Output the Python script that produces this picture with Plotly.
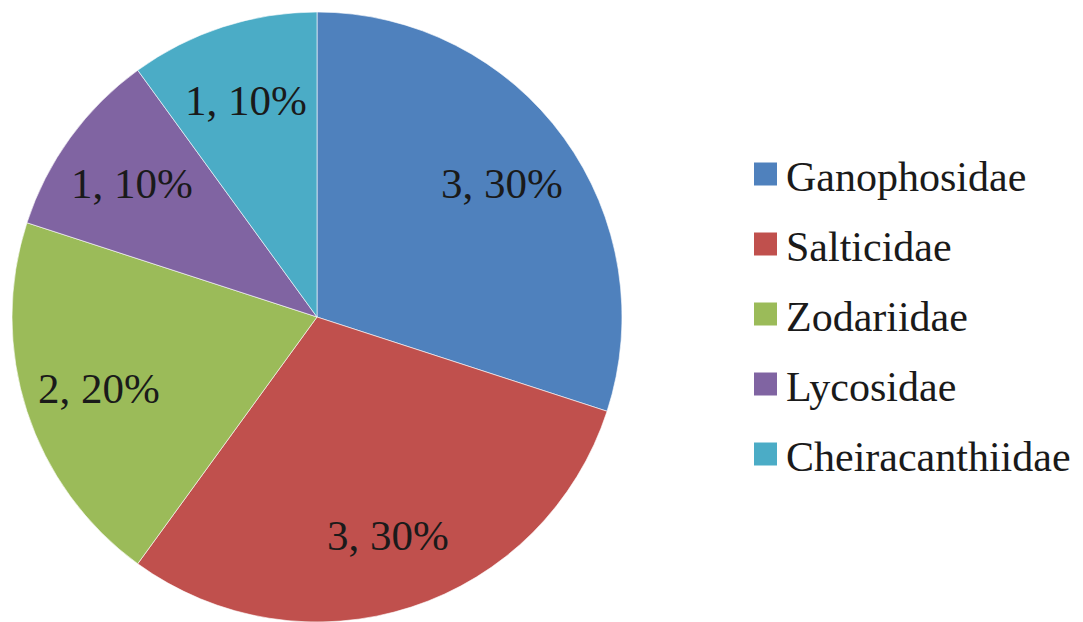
import math
import plotly.graph_objects as go

categories = ["Ganophosidae", "Salticidae", "Zodariidae", "Lycosidae", "Cheiracanthiidae"]
counts = [3, 3, 2, 1, 1]
colors = ["#4F81BD", "#C0504D", "#9BBB59", "#8064A2", "#4BACC6"]

W, H = 1083, 622
OFF = 8  # page body margin of the browser


def px(x):
    return (x - OFF) / W


def py(y_from_top):
    return 1 - (y_from_top - OFF) / H


cx, cy, r = 317, 317, 305  # window pixels (y from top)

fig = go.Figure(go.Pie(
    labels=categories, values=counts, sort=False, direction="clockwise", rotation=0,
    marker=dict(colors=colors, line=dict(color="rgba(255,255,255,0.6)", width=1)),
    textinfo="none", showlegend=False, hoverinfo="label+value+percent",
    domain=dict(x=[px(cx - r), px(cx + r)], y=[py(cy + r), py(cy - r)]),
))

annotations, shapes = [], []
# data labels, placed along each slice's mid-angle (computed from the data)
total = sum(counts)
cum = 0
for v in counts:
    mid = (cum + v / 2) / total * 2 * math.pi
    cum += v
    lx = cx + 0.75 * r * math.sin(mid)
    ly = cy - 0.75 * r * math.cos(mid) + 1
    annotations.append(dict(xref="paper", yref="paper", x=px(lx), y=py(ly),
                            xanchor="center", yanchor="middle", showarrow=False,
                            text=f"{v}, {round(v / total * 100)}%",
                            font=dict(family="Liberation Serif", size=43, color="#1a1a1a")))

# legend
x0, y_top, gap, sq = 754, 174, 70, 23
for i, (cat, col) in enumerate(zip(categories, colors)):
    yc = y_top + i * gap
    shapes.append(dict(type="rect", xref="paper", yref="paper",
                       x0=px(x0), x1=px(x0 + sq),
                       y0=py(yc + sq / 2), y1=py(yc - sq / 2),
                       fillcolor=col, line=dict(width=0)))
    annotations.append(dict(xref="paper", yref="paper", x=px(x0 + sq + 7), y=py(yc + 3),
                            xanchor="left", yanchor="middle", showarrow=False, text=cat,
                            font=dict(family="Liberation Serif", size=42, color="#1a1a1a")))

fig.update_layout(width=W, height=H, margin=dict(l=0, r=0, t=0, b=0),
                  paper_bgcolor="white", plot_bgcolor="white",
                  shapes=shapes, annotations=annotations)
fig.write_html("out.html")
